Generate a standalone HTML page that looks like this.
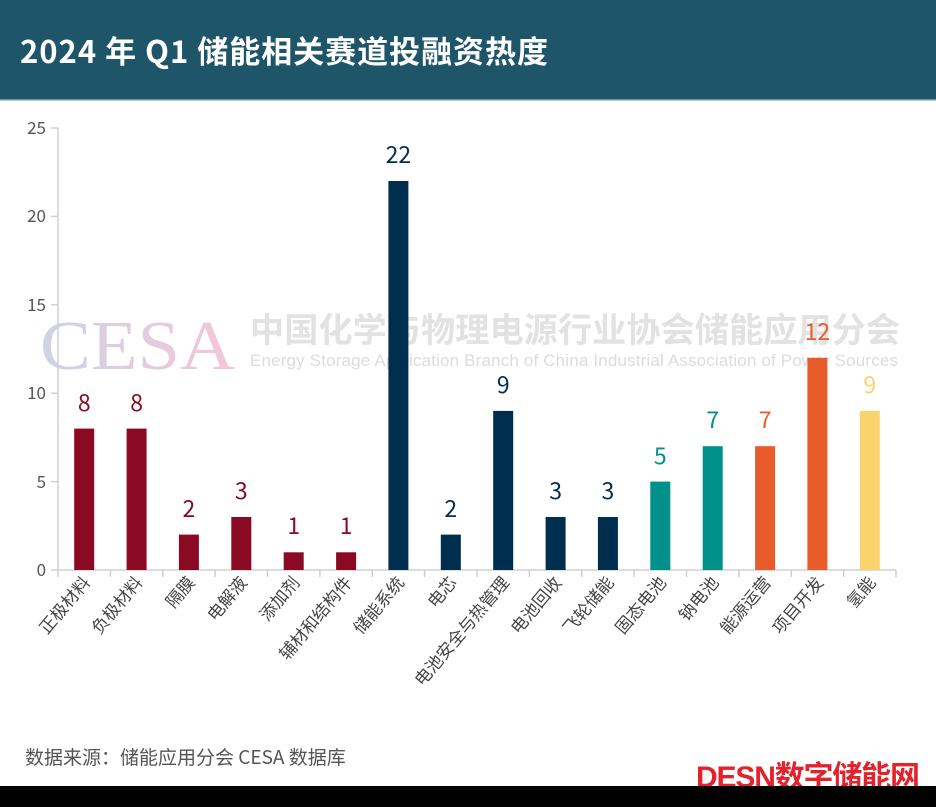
<!DOCTYPE html>
<html><head><meta charset="utf-8"><style>
body{margin:0;width:936px;height:807px;background:#fff;overflow:hidden;font-family:"Liberation Sans","Noto Sans CJK SC",sans-serif}
</style></head><body>
<svg width="936" height="807" xmlns="http://www.w3.org/2000/svg" style="display:block">
<defs><linearGradient id="g" x1="0" x2="1" y1="0" y2="0"><stop offset="0" stop-color="#cfd3e6"/><stop offset="1" stop-color="#f3c6d6"/></linearGradient></defs>
<rect x="0" y="0" width="936" height="100" fill="#1e5569"/>
<rect x="0" y="99" width="936" height="1.5" fill="#6e93a2"/>
<text x="20" y="63" font-size="31" font-weight="bold" fill="#fff" font-family="Noto Sans CJK SC,sans-serif" textLength="528">2024 年 Q1 储能相关赛道投融资热度</text>
<text x="40" y="369" font-size="70" font-family="Liberation Serif,serif" fill="url(#g)" textLength="195" lengthAdjust="spacingAndGlyphs">CESA</text>
<text x="250" y="342" font-size="34" font-weight="bold" fill="#e2e2e2" textLength="650" lengthAdjust="spacingAndGlyphs" font-family="Noto Sans CJK SC,sans-serif">中国化学与物理电源行业协会储能应用分会</text>
<text x="250" y="366" font-size="17" fill="#dcdcdc" textLength="648" font-family="Liberation Sans,sans-serif">Energy Storage Application Branch of China Industrial Association of Power Sources</text>
<g stroke="#d0d0d0" stroke-width="1.5" fill="none">
<line x1="58" y1="128" x2="58" y2="570"/>
<line x1="58" y1="570" x2="896" y2="570"/>
<line x1="51" y1="128" x2="58" y2="128"/><line x1="51" y1="216.4" x2="58" y2="216.4"/><line x1="51" y1="304.8" x2="58" y2="304.8"/><line x1="51" y1="393.2" x2="58" y2="393.2"/><line x1="51" y1="481.6" x2="58" y2="481.6"/><line x1="51" y1="570" x2="58" y2="570"/>
<line x1="58" y1="570" x2="58" y2="577"/><line x1="110.4" y1="570" x2="110.4" y2="577"/><line x1="162.8" y1="570" x2="162.8" y2="577"/><line x1="215.1" y1="570" x2="215.1" y2="577"/><line x1="267.5" y1="570" x2="267.5" y2="577"/><line x1="319.9" y1="570" x2="319.9" y2="577"/><line x1="372.3" y1="570" x2="372.3" y2="577"/><line x1="424.6" y1="570" x2="424.6" y2="577"/><line x1="477" y1="570" x2="477" y2="577"/><line x1="529.4" y1="570" x2="529.4" y2="577"/><line x1="581.8" y1="570" x2="581.8" y2="577"/><line x1="634.1" y1="570" x2="634.1" y2="577"/><line x1="686.5" y1="570" x2="686.5" y2="577"/><line x1="738.9" y1="570" x2="738.9" y2="577"/><line x1="791.3" y1="570" x2="791.3" y2="577"/><line x1="843.6" y1="570" x2="843.6" y2="577"/><line x1="896" y1="570" x2="896" y2="577"/>
</g>
<g font-size="17" fill="#555" text-anchor="end" font-family="Noto Sans CJK SC,sans-serif">
<text x="46" y="134">25</text><text x="46" y="222">20</text><text x="46" y="311">15</text><text x="46" y="399">10</text><text x="46" y="488">5</text><text x="46" y="576">0</text>
</g>
<g>
<rect x="74.2" y="428.6" width="20" height="141.4" fill="#8a0a24"/>
<rect x="126.6" y="428.6" width="20" height="141.4" fill="#8a0a24"/>
<rect x="178.9" y="534.6" width="20" height="35.4" fill="#8a0a24"/>
<rect x="231.3" y="517" width="20" height="53" fill="#8a0a24"/>
<rect x="283.7" y="552.3" width="20" height="17.7" fill="#8a0a24"/>
<rect x="336.1" y="552.3" width="20" height="17.7" fill="#8a0a24"/>
<rect x="388.4" y="181" width="20" height="389" fill="#002e4f"/>
<rect x="440.8" y="534.6" width="20" height="35.4" fill="#002e4f"/>
<rect x="493.2" y="410.9" width="20" height="159.1" fill="#002e4f"/>
<rect x="545.6" y="517" width="20" height="53" fill="#002e4f"/>
<rect x="597.9" y="517" width="20" height="53" fill="#002e4f"/>
<rect x="650.3" y="481.6" width="20" height="88.4" fill="#00918a"/>
<rect x="702.7" y="446.2" width="20" height="123.8" fill="#00918a"/>
<rect x="755.1" y="446.2" width="20" height="123.8" fill="#e85b2a"/>
<rect x="807.4" y="357.8" width="20" height="212.2" fill="#e85b2a"/>
<rect x="859.8" y="410.9" width="20" height="159.1" fill="#f9d46c"/>
</g>
<g font-size="23" text-anchor="middle" font-family="Noto Sans CJK SC,sans-serif">
<text x="84.2" y="411" fill="#8a0a24">8</text>
<text x="136.6" y="411" fill="#8a0a24">8</text>
<text x="188.9" y="517" fill="#8a0a24">2</text>
<text x="241.3" y="499" fill="#8a0a24">3</text>
<text x="293.7" y="534" fill="#8a0a24">1</text>
<text x="346.1" y="534" fill="#8a0a24">1</text>
<text x="398.4" y="163" fill="#002e4f">22</text>
<text x="450.8" y="517" fill="#002e4f">2</text>
<text x="503.2" y="393" fill="#002e4f">9</text>
<text x="555.6" y="499" fill="#002e4f">3</text>
<text x="607.9" y="499" fill="#002e4f">3</text>
<text x="660.3" y="464" fill="#00918a">5</text>
<text x="712.7" y="428" fill="#00918a">7</text>
<text x="765.1" y="428" fill="#e85b2a">7</text>
<text x="817.4" y="340" fill="#e85b2a">12</text>
<text x="869.8" y="393" fill="#f9d46c">9</text>
</g>
<g font-size="17" fill="#444" text-anchor="end" font-family="Noto Sans CJK SC,sans-serif">
<text transform="translate(91,583) rotate(-50)">正极材料</text>
<text transform="translate(143.4,583) rotate(-50)">负极材料</text>
<text transform="translate(195.7,583) rotate(-50)">隔膜</text>
<text transform="translate(248.1,583) rotate(-50)">电解液</text>
<text transform="translate(300.5,583) rotate(-50)">添加剂</text>
<text transform="translate(352.9,583) rotate(-50)">辅材和结构件</text>
<text transform="translate(405.2,583) rotate(-50)">储能系统</text>
<text transform="translate(457.6,583) rotate(-50)">电芯</text>
<text transform="translate(510,583) rotate(-50)">电池安全与热管理</text>
<text transform="translate(562.4,583) rotate(-50)">电池回收</text>
<text transform="translate(614.7,583) rotate(-50)">飞轮储能</text>
<text transform="translate(667.1,583) rotate(-50)">固态电池</text>
<text transform="translate(719.5,583) rotate(-50)">钠电池</text>
<text transform="translate(771.9,583) rotate(-50)">能源运营</text>
<text transform="translate(824.2,583) rotate(-50)">项目开发</text>
<text transform="translate(876.6,583) rotate(-50)">氢能</text>
</g>
<text x="25" y="764" font-size="19" fill="#555" font-family="Noto Sans CJK SC,sans-serif">数据来源：储能应用分会 CESA 数据库</text>
<text x="696" y="787" font-size="30" font-weight="bold" fill="#e3222c" font-family="Liberation Sans,Noto Sans CJK SC,sans-serif" textLength="224">DESN数字储能网</text>
<rect x="0" y="786" width="936" height="21" fill="#000"/>
</svg>
</body></html>
